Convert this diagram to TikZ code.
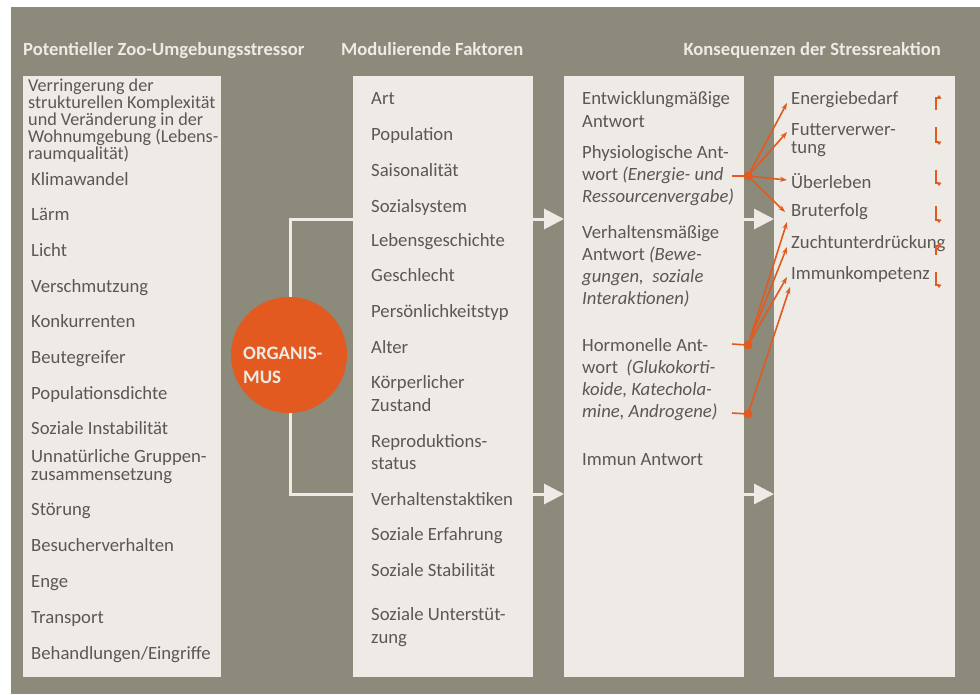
\documentclass[tikz,border=0pt]{standalone}
\usepackage{fontspec}
\setmainfont{Carlito}
\usetikzlibrary{arrows.meta}
\definecolor{bggrey}{HTML}{8C8A7B}
\definecolor{boxfill}{HTML}{EEEBE7}
\definecolor{txtgrey}{HTML}{5A5754}
\definecolor{orgorange}{HTML}{E25A1F}

\begin{document}
\begin{tikzpicture}[x=1pt,y=-1pt,
      column/.style={
         rectangle,
         fill=boxfill,
         inner sep=0pt,
         anchor=north west,
         minimum height=601pt
      },
      header/.style={
         inner sep=0pt,
         font=\bfseries\fontsize{18.6}{24}\selectfont,
         text=boxfill
      },
      factor/.style={
         anchor=base west,
         inner sep=0pt,
         align=left,
         font=\fontsize{18.7}{22}\selectfont,
         text=txtgrey
      },
      organism/.style={
         circle,
         fill=orgorange,
         minimum size=116pt,
         inner sep=0pt
      },
      flow/.style={draw=boxfill, line width=3pt},
      flowtip/.style={flow, -{Triangle[length=20pt,width=20pt]}},
      link/.style={draw=orgorange, line width=1.6pt, -{Stealth[length=7pt,width=5pt]}},
      stub/.style={draw=orgorange, line width=1.6pt},
      point/.style={circle, fill=orgorange, inner sep=0pt, minimum size=9pt},
      trend/.style={draw=orgorange, line width=1.5pt, -{Triangle[length=3.5pt,width=5pt]}}
    ]
    \useasboundingbox (0,0) rectangle (980,694);
    \fill[bggrey] (11,7) rectangle (980,694);

    % headers
    \node (h1) [header, anchor=base west] at (23,55) {Potentieller Zoo-Umgebungsstressor};
    \node (h2) [header, anchor=base west] at (341,55) {Modulierende Faktoren};
    \node (h3) [header, anchor=base east] at (941,55) {Konsequenzen der Stressreaktion};

    % columns
    \node (stressors) [column, minimum width=198pt] at (23,76) {};
    \node (factors) [column, minimum width=180pt] at (353,76) {};
    \node (responses) [column, minimum width=180pt] at (564,76) {};
    \node (consequences) [column, minimum width=181pt] at (774,76) {};

    % stressors (multi-line nodes sit on the baseline of their last line)
    \node (s1) [factor, font=\fontsize{18.2}{16.8}\selectfont] at (28,159) {Verringerung der\\strukturellen Komplexität\\und Veränderung in der\\Wohnumgebung (Lebens-\\raumqualität)};
    \node (s2) [factor] at (31,185) {Klimawandel};
    \node (s3) [factor] at (31,220) {Lärm};
    \node (s4) [factor] at (31,256) {Licht};
    \node (s5) [factor] at (31,292) {Verschmutzung};
    \node (s6) [factor] at (31,327) {Konkurrenten};
    \node (s7) [factor] at (31,363) {Beutegreifer};
    \node (s8) [factor] at (31,399) {Populationsdichte};
    \node (s9) [factor] at (31,434) {Soziale Instabilität};
    \node (s10) [factor, font=\fontsize{18.7}{18}\selectfont] at (31,480) {Unnatürliche Gruppen-\\zusammensetzung};
    \node (s11) [factor] at (31,515) {Störung};
    \node (s12) [factor] at (31,551) {Besucherverhalten};
    \node (s13) [factor] at (31,587) {Enge};
    \node (s14) [factor] at (31,623) {Transport};
    \node (s15) [factor] at (31,659) {Behandlungen/Eingriffe};

    % modulating factors
    \node (m1) [factor] at (371,104) {Art};
    \node (m2) [factor] at (371,140) {Population};
    \node (m3) [factor] at (371,176) {Saisonalität};
    \node (m4) [factor] at (371,212) {Sozialsystem};
    \node (m5) [factor] at (371,246) {Lebensgeschichte};
    \node (m6) [factor] at (371,281) {Geschlecht};
    \node (m7) [factor] at (371,317) {Persönlichkeitstyp};
    \node (m8) [factor] at (371,353) {Alter};
    \node (m9) [factor, font=\fontsize{18.7}{23}\selectfont] at (371,411) {Körperlicher\\Zustand};
    \node (m10) [factor] at (371,469) {Reproduktions-\\status};
    \node (m11) [factor] at (371,505) {Verhaltenstaktiken};
    \node (m12) [factor] at (371,540) {Soziale Erfahrung};
    \node (m13) [factor] at (371,576) {Soziale Stabilität};
    \node (m14) [factor, font=\fontsize{18.7}{23}\selectfont] at (371,643) {Soziale Unterstüt-\\zung};

    % responses
    \node (r1) [factor, font=\fontsize{18.7}{23}\selectfont] at (582,127) {Entwicklungmäßige\\Antwort};
    \node (r2) [factor] at (582,202) {Physiologische Ant-\\wort \textit{(Energie- und}\\\textit{Ressourcenvergabe)}};
    \node (r3) [factor] at (582,304) {Verhaltensmäßige\\Antwort \textit{(Bewe-}\\\textit{gungen,\ \ soziale}\\\textit{Interaktionen)}};
    \node (r4) [factor] at (582,417) {Hormonelle Ant-\\wort\ \ \textit{(Glukokorti-}\\\textit{koide, Katechola-}\\\textit{mine, Androgene)}};
    \node (r5) [factor] at (582,465) {Immun Antwort};

    % consequences
    \node (c1) [factor] at (791,104) {Energiebedarf};
    \node (c2) [factor, font=\fontsize{18.7}{18}\selectfont] at (791,153) {Futterverwer-\\tung};
    \node (c3) [factor] at (791,188) {Überleben};
    \node (c4) [factor] at (791,216) {Bruterfolg};
    \node (c5) [factor] at (791,248) {Zuchtunterdrückung};
    \node (c6) [factor] at (791,279) {Immunkompetenz};

    % organism and its two paths
    \coordinate (ftop) at (290,219);
    \coordinate (fbot) at (290,494);
    \draw[flow] (factors.west |- ftop) -- (ftop) -- (fbot) -- (factors.west |- fbot);
    \draw[flowtip] (factors.east |- ftop) -- (responses.west |- ftop);
    \draw[flowtip] (factors.east |- fbot) -- (responses.west |- fbot);
    \draw[flowtip] (responses.east |- ftop) -- (consequences.west |- ftop);
    \draw[flowtip] (responses.east |- fbot) -- (consequences.west |- fbot);
    \node (org) [organism] at (289,355) {};
    \node (orgtext) [header, anchor=base west, align=left, font=\bfseries\fontsize{19}{24}\selectfont] at (243,383) {ORGANIS-\\MUS};

    % orange links
    \node (phys) [point] at (748,176) {};
    \node (horm) [point] at (748,345) {};
    \node (andr) [point] at (748,414) {};
    \coordinate (physin) at (732,176);
    \coordinate (hormin) at (732,344);
    \coordinate (andrin) at (732,413);
    \coordinate (t1) at (787,103);
    \coordinate (t2) at (787,132);
    \coordinate (t3) at (787,180);
    \coordinate (t4) at (785,212);
    \coordinate (t5) at (787,222);
    \coordinate (t6) at (787,247);
    \coordinate (t7) at (787,277);
    \coordinate (t8) at (790,287);
    \draw[stub] (physin) -- (phys.center);
    \draw[stub] (hormin) -- (horm.center);
    \draw[stub] (andrin) -- (andr.center);
    \draw[link] (phys.center) -- (t1);
    \draw[link] (phys.center) -- (t2);
    \draw[link] (phys.center) -- (t3);
    \draw[link] (phys.center) -- (t4);
    \draw[link] (horm.center) -- (t5);
    \draw[link] (horm.center) -- (t6);
    \draw[link] (horm.center) -- (t7);
    \draw[link] (andr.center) -- (t8);

    % up/down marks
    \draw[trend] (936,110) -- (936,98) -- (939,98) -- (939,95);
    \draw[trend] (936,127) -- (936,142) -- (939,142) -- (939,145);
    \draw[trend] (936,170) -- (936,183) -- (939,183) -- (939,186);
    \draw[trend] (936,206) -- (936,220) -- (939,220) -- (939,223);
    \draw[trend] (936,255) -- (936,246) -- (939,246) -- (939,243);
    \draw[trend] (936,272) -- (936,285) -- (939,285) -- (939,288);
\end{tikzpicture}
\end{document}
